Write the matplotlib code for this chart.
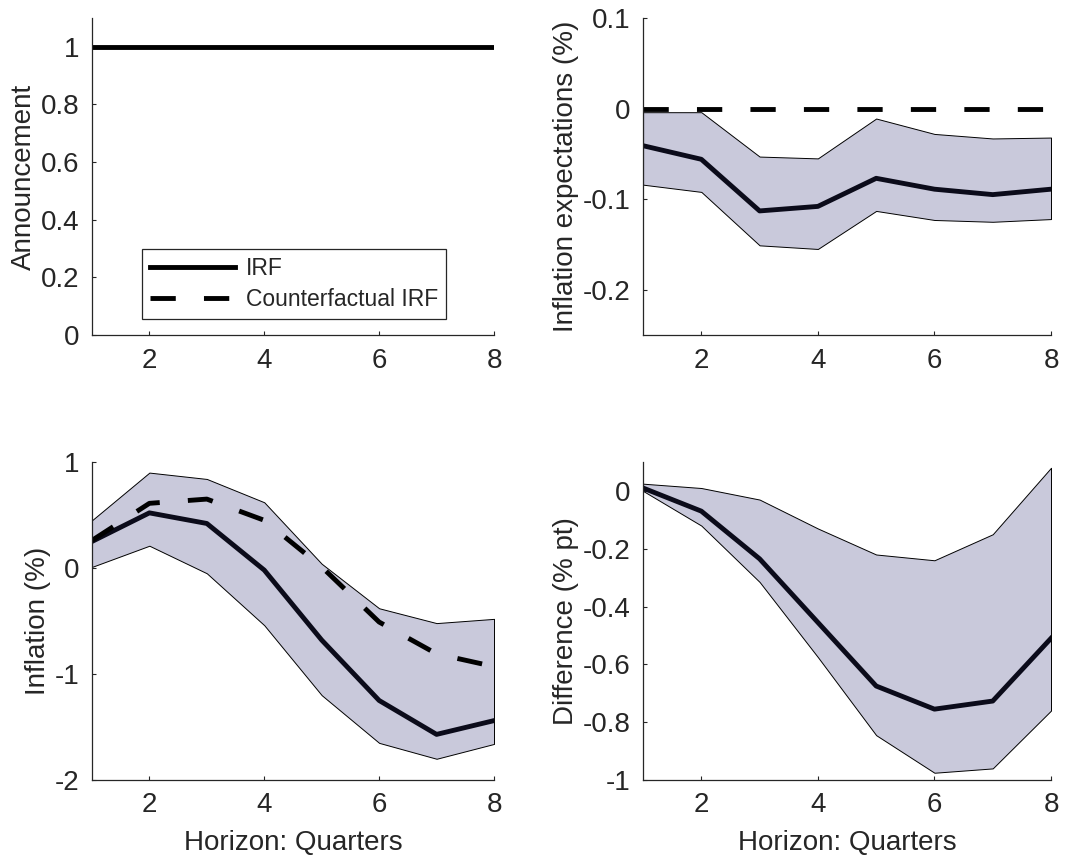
import matplotlib
matplotlib.use('Agg')
import matplotlib.pyplot as plt
import numpy as np

# horizon (quarters)
horizon = [1, 2, 3, 4, 5, 6, 7, 8]

# announcement
announce_irf = [1, 1, 1, 1, 1, 1, 1, 1]

# inflation expectations (%)
exp_irf = [-0.041, -0.056, -0.113, -0.108, -0.077, -0.089, -0.095, -0.089]
exp_hi = [-0.004, -0.004, -0.053, -0.055, -0.011, -0.028, -0.033, -0.032]
exp_lo = [-0.084, -0.092, -0.151, -0.155, -0.113, -0.123, -0.125, -0.122]
exp_cf = [0, 0, 0, 0, 0, 0, 0, 0]

# inflation (%)
inf_irf = [0.25, 0.52, 0.42, -0.02, -0.68, -1.25, -1.57, -1.44]
inf_cf = [0.26, 0.61, 0.65, 0.45, 0.01, -0.51, -0.81, -0.93]
inf_hi = [0.45, 0.90, 0.84, 0.62, 0.04, -0.38, -0.52, -0.48]
inf_lo = [0.01, 0.21, -0.05, -0.54, -1.20, -1.65, -1.80, -1.66]

# difference (% pt)
diff_irf = [0.01, -0.07, -0.235, -0.455, -0.675, -0.755, -0.727, -0.51]
diff_hi = [0.025, 0.01, -0.03, -0.13, -0.22, -0.24, -0.15, 0.08]
diff_lo = [0.0, -0.12, -0.315, -0.575, -0.845, -0.975, -0.96, -0.76]

plt.rcParams['font.family'] = ['Liberation Sans', 'DejaVu Sans']
txt = '#262626'
band = '#c9c9db'
dark = '#0b0b1a'
fs = 20
dash = (0, (5.2, 5.8))


def style(ax, ylim, yticks, ylab, xlab=None):
    ax.set_xlim(1, 8)
    ax.set_ylim(*ylim)
    ax.set_xticks([2, 4, 6, 8])
    ax.set_yticks(yticks)
    ax.set_yticklabels([('%g' % t) for t in yticks])
    for s in ['top', 'right']:
        ax.spines[s].set_visible(False)
    for s in ['left', 'bottom']:
        ax.spines[s].set_color(txt)
        ax.spines[s].set_linewidth(0.9)
    ax.tick_params(direction='in', length=3, width=0.8, colors=txt,
                   labelsize=fs, pad=9)
    ax.set_ylabel(ylab, fontsize=fs, color=txt, labelpad=2.5)
    if xlab:
        ax.set_xlabel(xlab, fontsize=fs, color=txt, labelpad=8)


fig = plt.figure(figsize=(10.73, 8.65), dpi=100)
ax1 = fig.add_axes([0.0857, 0.6127, 0.3747, 0.3665])
ax2 = fig.add_axes([0.5993, 0.6127, 0.3802, 0.3665])
ax3 = fig.add_axes([0.0857, 0.0983, 0.3747, 0.3676])
ax4 = fig.add_axes([0.5993, 0.0983, 0.3802, 0.3676])

# announcement
l1, = ax1.plot(horizon, announce_irf, color='black', lw=3.5)
l2, = ax1.plot([], [], color='black', lw=3.5, ls=dash)
style(ax1, (0, 1.1), [0, 0.2, 0.4, 0.6, 0.8, 1], 'Announcement')
leg = ax1.legend([l1, l2], ['IRF', 'Counterfactual IRF'], loc='lower left',
                 bbox_to_anchor=(0.124, 0.05), fontsize=16.5,
                 handlelength=3.7, fancybox=False, framealpha=1,
                 edgecolor=txt, borderpad=0.35, labelspacing=0.35,
                 handletextpad=0.5, borderaxespad=0)
leg.get_frame().set_linewidth(0.9)
for t in leg.get_texts():
    t.set_color(txt)

# inflation expectations
ax2.fill_between(horizon, exp_lo, exp_hi, facecolor=band, edgecolor='black', lw=0.7)
ax2.plot(horizon, exp_irf, color=dark, lw=3.5)
ax2.plot(horizon, exp_cf, color='black', lw=3.5, ls=dash)
style(ax2, (-0.25, 0.1), [-0.2, -0.1, 0, 0.1], 'Inflation expectations (%)')

# inflation
ax3.fill_between(horizon, inf_lo, inf_hi, facecolor=band, edgecolor='black', lw=0.7)
ax3.plot(horizon, inf_irf, color=dark, lw=3.5)
ax3.plot(horizon, inf_cf, color='black', lw=3.5, ls=dash)
style(ax3, (-2, 1), [-2, -1, 0, 1], 'Inflation (%)', 'Horizon: Quarters')

# difference
ax4.fill_between(horizon, diff_lo, diff_hi, facecolor=band, edgecolor='black', lw=0.7)
ax4.plot(horizon, diff_irf, color=dark, lw=3.5)
style(ax4, (-1, 0.1), [-1, -0.8, -0.6, -0.4, -0.2, 0], 'Difference (% pt)',
      'Horizon: Quarters')

fig.savefig('out.png', dpi=100)
